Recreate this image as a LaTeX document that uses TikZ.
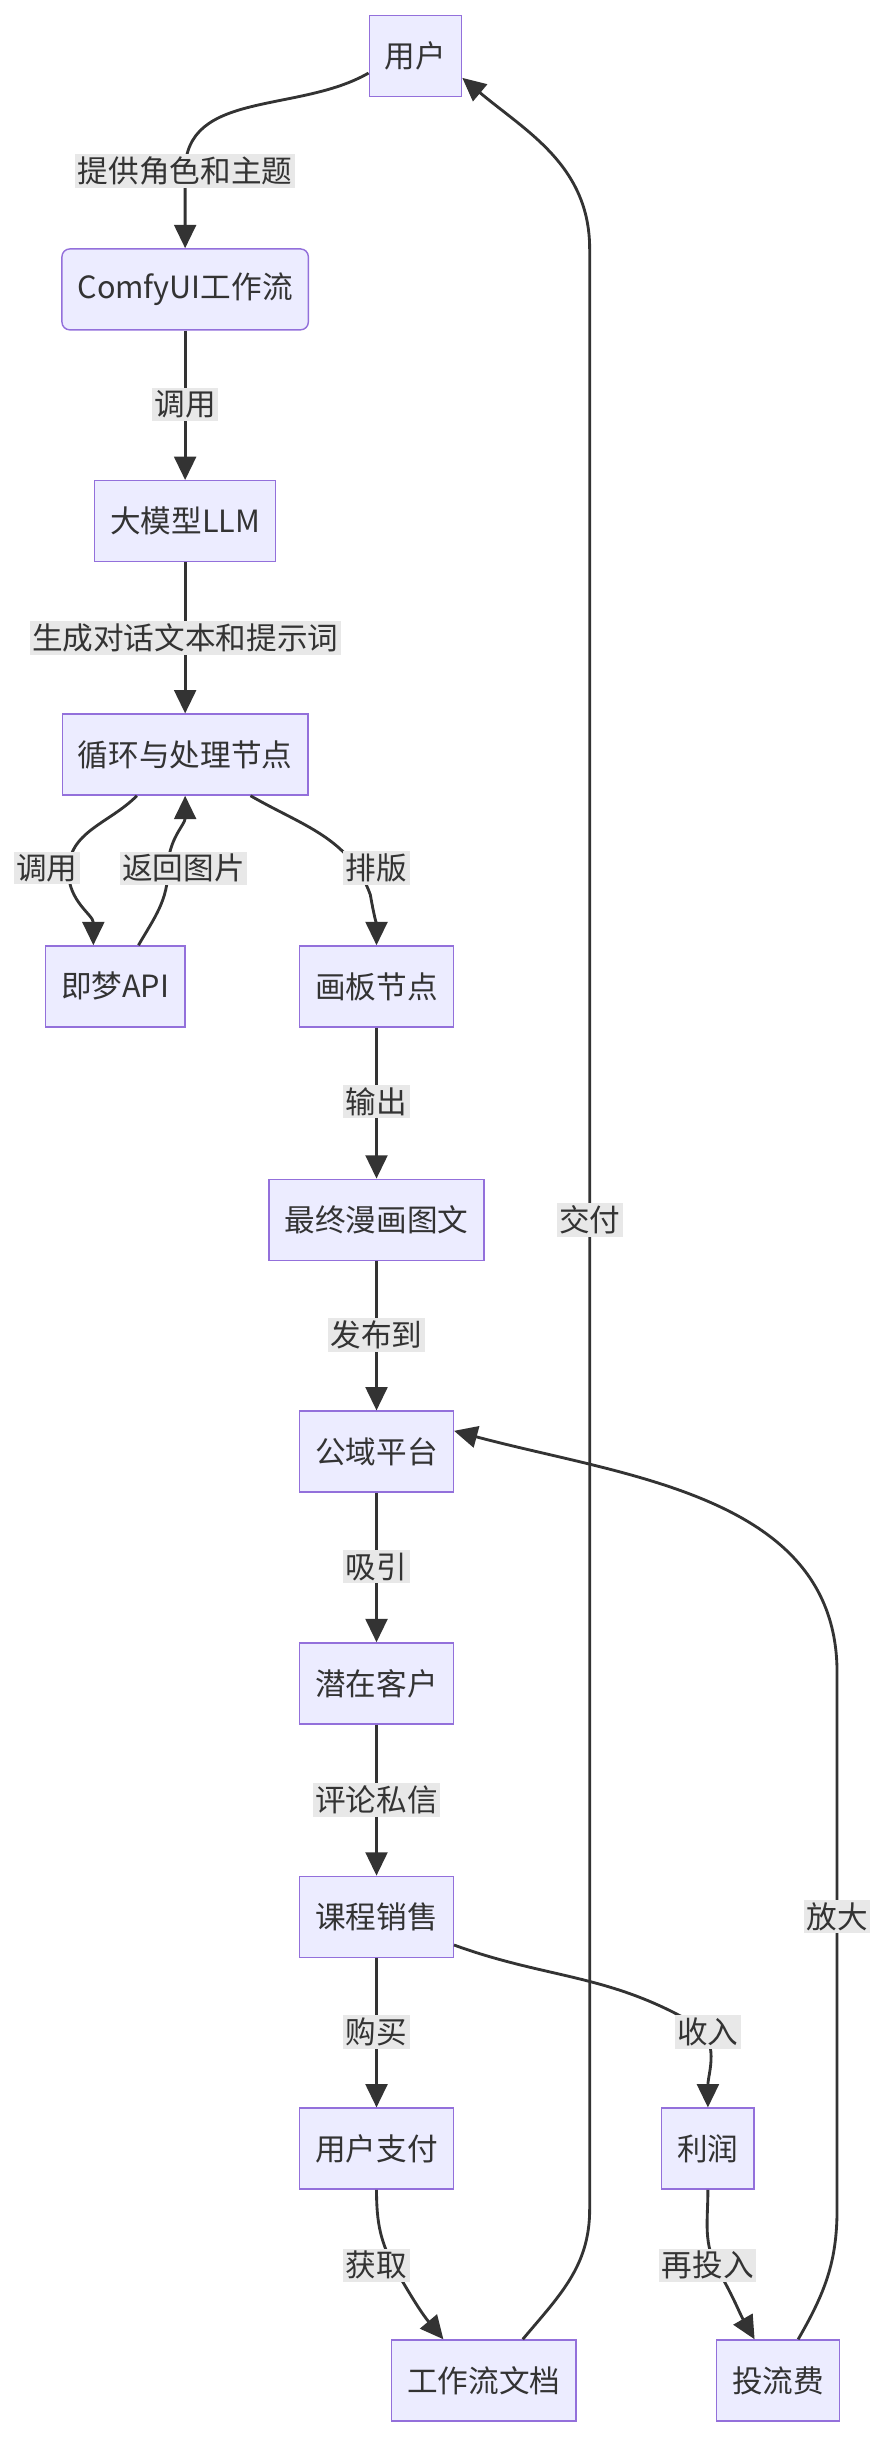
\documentclass[tikz,border=0pt]{standalone}
\usepackage{fontspec}
\setmainfont{Noto Sans CJK SC}
\usetikzlibrary{arrows.meta}
\definecolor{boxfill}{HTML}{ECECFF}
\definecolor{boxline}{HTML}{9370DB}
\definecolor{ink}{HTML}{333333}
\definecolor{lblbg}{HTML}{E8E8E8}
\tikzset{
  box/.style={draw=boxline, fill=boxfill, line width=1.3pt, text=ink,
    minimum height=2.6cm, inner xsep=0.5cm, font=\fontsize{28}{32}\selectfont},
  edge/.style={draw=ink, line width=2.6pt, -{Triangle[length=0.75cm,width=0.7cm]}},
  lbl/.style={fill=lblbg, text=ink, inner sep=0.08cm, font=\fontsize{28}{32}\selectfont}
}
\begin{document}
\begin{tikzpicture}[x=0.05cm,y=-0.05cm]
  \useasboundingbox (0,0) rectangle (568,1567);
  % nodes
  \node [box] (user) at (267,36) {用户};
  \node [box, rounded corners=0.25cm] (comfy) at (119,186) {ComfyUI工作流};
  \node [box] (llm) at (119,335) {大模型LLM};
  \node [box] (loop) at (119,485) {循环与处理节点};
  \node [box] (jimeng) at (74,634) {即梦API};
  \node [box] (board) at (242,634) {画板节点};
  \node [box] (comic) at (242,784) {最终漫画图文};
  \node [box] (public) at (242,933) {公域平台};
  \node [box] (client) at (242,1082) {潜在客户};
  \node [box] (course) at (242,1232) {课程销售};
  \node [box] (pay) at (242,1381) {用户支付};
  \node [box] (profit) at (455,1381) {利润};
  \node [box] (doc) at (311,1530) {工作流文档};
  \node [box] (ads) at (500,1530) {投流费};
  % label positions
  \coordinate (l1) at (119,110);
  \coordinate (l4) at (44,560);
  \coordinate (l5) at (108,558);
  \coordinate (l6) at (238,575);
  \coordinate (l12) at (445,1300);
  \coordinate (l13) at (255,1460);
  \coordinate (l14) at (462,1460);
  % edges
  \draw [edge] (user.-160) to[out=-150,in=90] (l1) -- (comfy);
  \draw [edge] (comfy) -- (llm);
  \draw [edge] (llm) -- (loop);
  \draw [edge] ([xshift=-1.55cm]loop.south) to[out=-135,in=90] (l4) to[out=-90,in=90] ([xshift=-0.7cm]jimeng.north);
  \draw [edge] ([xshift=0.75cm]jimeng.north) to[out=60,in=-90] (l5) to[out=90,in=-90] (loop.south);
  \draw [edge] ([xshift=2.1cm]loop.south) to[out=-30,in=110] (l6) to[out=-80,in=90] (board);
  \draw [edge] (board) -- (comic);
  \draw [edge] (comic) -- (public);
  \draw [edge] (public) -- (client);
  \draw [edge] (client) -- (course);
  \draw [edge] (course) -- (pay);
  \draw [edge] (course.-20) to[out=-20,in=150] (l12) to[out=-30,in=90] (profit.north);
  \draw [edge] (pay.south) to[out=-90,in=120] (l13) to[out=-60,in=130] ([xshift=-1.3cm]doc.north);
  \draw [edge] (profit.south) to[out=-90,in=120] (l14) to[out=-60,in=120] ([xshift=-0.75cm]ads.north);
  \draw [edge] ([xshift=1.25cm]doc.north) to[out=50,in=-90] (379,1420) -- (379,160) to[out=90,in=-40] (user.-25);
  \draw [edge] ([xshift=0.65cm]ads.north) to[out=60,in=-90] (538,1420) -- (538,1075) to[out=90,in=-15] (public.15);
  % edge labels
  \node [lbl] (t1) at (119,110) {提供角色和主题};
  \node [lbl] (t2) at (119,260) {调用};
  \node [lbl] (t3) at (119,410) {生成对话文本和提示词};
  \node [lbl] (t4) at (30,558) {调用};
  \node [lbl] (t5) at (118,558) {返回图片};
  \node [lbl] (t6) at (242,558) {排版};
  \node [lbl] (t7) at (242,708) {输出};
  \node [lbl] (t8) at (242,858) {发布到};
  \node [lbl] (t9) at (242,1007) {吸引};
  \node [lbl] (t10) at (242,1157) {评论私信};
  \node [lbl] (t11) at (242,1306) {购买};
  \node [lbl] (t12) at (455,1306) {收入};
  \node [lbl] (t13) at (242,1456) {获取};
  \node [lbl] (t14) at (455,1456) {再投入};
  \node [lbl] (t15) at (379,784) {交付};
  \node [lbl] (t16) at (538,1232) {放大};
\end{tikzpicture}
\end{document}
